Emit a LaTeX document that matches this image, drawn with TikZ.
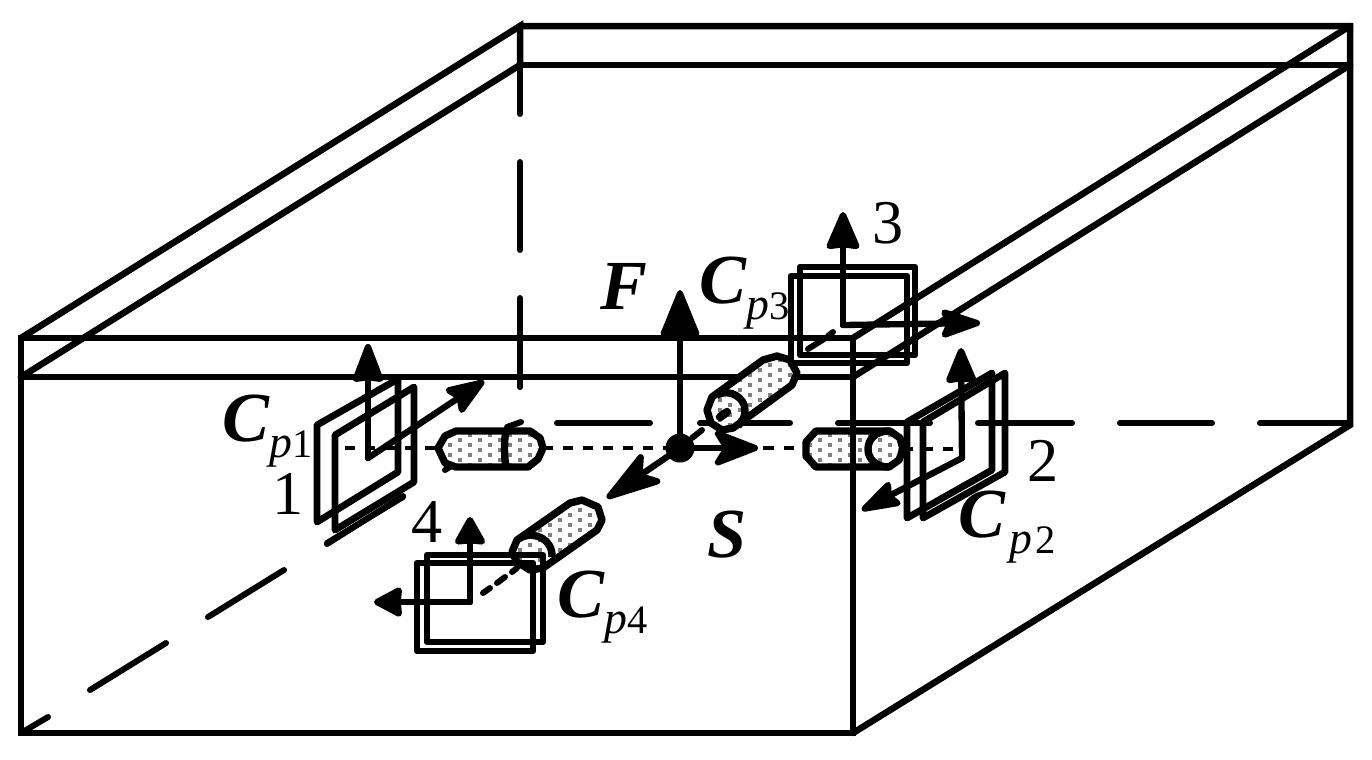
\documentclass[tikz,border=0pt]{standalone}
\usepackage{fontspec}
\setmainfont{Liberation Serif}
\usetikzlibrary{arrows.meta}
\newcommand{\capsub}[3][0pt]{{\fontsize{20}{20}\selectfont\bfseries\itshape C}\raisebox{-4.8pt}{\kern#1\fontsize{13}{13}\selectfont\itshape #2\kern#1\fontsize{11.5}{12}\selectfont\normalfont #3}}
\tikzset{
  heavy/.style={line width=1.85pt,line cap=round,line join=miter},
  longdash/.style={line width=1.7pt,line cap=round},
  thindash/.style={line width=1.2pt,dash pattern=on 2.85pt off 2.85pt},
  frameline/.style={line width=1.95pt,line join=round},
  tube/.style={line width=2.1pt,line join=round},
  axisarrow/.style n args={3}{line width=1.8pt,line cap=round,-{Stealth[length=#1pt,width=#2pt,inset=#3pt,round]}},
  numlabel/.style={anchor=base west,inner sep=0pt,font=\fontsize{17.7}{18}\selectfont},
  caplabel/.style={anchor=base west,inner sep=0pt},
  biglabel/.style={anchor=base west,inner sep=0pt,font=\fontsize{20}{20}\selectfont\bfseries\itshape}
}
\newcommand{\tubeA}{(438,448) -- (445,436) -- (456,431) -- (530,431) -- (540,438) -- (543,448) -- (538,459) -- (528,467) -- (456,467) -- (445,463) -- cycle}
\newcommand{\tubeB}{(806,442) -- (816,431) -- (890,431) -- (900,438) -- (903,449) -- (899,460) -- (889,467) -- (816,467) -- (806,456) -- cycle}
\newcommand{\tubeC}{(707,410) -- (712,397) -- (763,360) -- (777,356) -- (790,360) -- (797,373) -- (792,385) -- (733,428) -- (722,430) -- (711,423) -- cycle}
\newcommand{\tubeD}{(512,552) -- (517,540) -- (570,503) -- (582,500) -- (598,507) -- (602,520) -- (597,530) -- (543,568) -- (530,570) -- (517,562) -- cycle}
\begin{document}
\begin{tikzpicture}[x=0.01cm,y=-0.01cm]
\useasboundingbox (0,0) rectangle (1372,759);
% corners of the box
\coordinate (ftl) at (21,338);
\coordinate (ftr) at (853,338);
\coordinate (fml) at (21,377);
\coordinate (fmr) at (853,377);
\coordinate (fbl) at (21,733);
\coordinate (fbr) at (853,733);
\coordinate (btl) at (520,26);
\coordinate (btr) at (1350,26);
\coordinate (bml) at (520,65);
\coordinate (bmr) at (1350,65);
\coordinate (bbr) at (1350,425);
% box
\draw[heavy] (ftl) -- (ftr) -- (fbr) -- (fbl) -- cycle;
\draw[heavy] (fml) -- (fmr);
\draw[heavy] (btl) -- (btr) -- (bbr) -- (fbr);
\draw[heavy] (bml) -- (bmr);
\draw[heavy] (ftl) -- (btl) -- (bml) -- (fml);
\draw[heavy] (ftr) -- (btr);
\draw[heavy] (fmr) -- (bmr);
% hidden edges
\draw[longdash] (520,65) -- (520,114) (520,162) -- (520,250) (520,298) -- (520,387);
\draw[longdash] (557,423) -- (650,423) (700,423) -- (790,423) (838,423) -- (930,423) (978,423) -- (1072,423) (1120,423) -- (1212,423) (1260,423) -- (1350,423);
\draw[longdash] (21,733) -- (48,717) (90,690) -- (166,643) (208,617) -- (284,570) (327,544) -- (403,496) (445,470) -- (456,463) (507,427) -- (521,422);
% sight lines
\draw[thindash] (345,448) -- (440,448) (543,448) -- (806,448) (903,449) -- (960,449);
% tubes
\fill[white] \tubeA; \fill[white] \tubeB; \fill[white] \tubeC; \fill[white] \tubeD;
\begin{scope}
\clip \tubeA \tubeB \tubeC \tubeD;
\foreach \x in {440,460,...,900} \foreach \y in {350,360,...,580} {
  \fill[black!50] (\x-2.2,\y-2.2) rectangle ++(4.4,4.4);
  \fill[black!50] (\x+7.8,\y+2.8) rectangle ++(4.4,4.4);
}
\end{scope}
\draw[heavy] (853,430) -- (853,468);
\draw[tube] \tubeA;
\draw[tube] (506,431) .. controls (504,440) and (504,456) .. (506,467);
\draw[tube] \tubeB;
\draw[tube] (889,431) .. controls (876,431) and (868,439) .. (868,449) .. controls (868,459) and (876,467) .. (889,467);
\draw[tube] \tubeC;
\draw[tube] (717,395) .. controls (730,388) and (745,398) .. (745,410) .. controls (745,416) and (743,421) .. (738,426);
\draw[line width=2.4pt,line cap=round] (720,417) -- (727,412);
\draw[tube] \tubeD;
\draw[tube] (520,538) .. controls (535,530) and (553,540) .. (552,557);
% frame 1
\draw[frameline] (317,425) -- (398,379) -- (398,472) -- (317,522) -- cycle;
\draw[frameline] (335,435) -- (414,387) -- (414,482) -- (335,530) -- cycle;
\draw[longdash] (327,543) -- (403,497);
\coordinate (o1) at (368,458);
\coordinate (u1) at (368,344);
\coordinate (d1) at (484,381);
\draw[axisarrow={12.5}{9.2}{0.5}] (o1) -- (u1);
\draw[axisarrow={13}{9.5}{2}] (o1) -- (d1);
% frame 2
\draw[frameline] (907,422) -- (992,373) -- (992,470) -- (907,518) -- cycle;
\draw[frameline] (923,422) -- (1005,373) -- (1005,472) -- (923,518) -- cycle;
\coordinate (o2) at (962,458);
\coordinate (u2) at (961,348);
\coordinate (d2) at (862,510);
\draw[axisarrow={11.5}{9.2}{0.5}] (o2) -- (u2);
\draw[axisarrow={13.5}{8.5}{2}] (o2) -- (d2);
% frame 3
\draw[frameline] (800,267) rectangle (915,355);
\draw[frameline] (791,276) rectangle (907,363);
\coordinate (o3) at (843,325);
\coordinate (u3) at (843,212);
\coordinate (r3) at (980,323);
\draw[axisarrow={12}{10}{0.5}] (o3) -- (u3);
\draw[axisarrow={13.5}{9}{2}] (o3) -- (r3);
\draw[longdash] (833,332) -- (828,336) (824,339) -- (808,349);
% frame 4
\draw[frameline] (427,555) rectangle (543,642);
\draw[frameline] (417,563) rectangle (533,651);
\coordinate (o4) at (470,602);
\coordinate (u4) at (470,517);
\coordinate (l4) at (374,602);
\draw[axisarrow={8.8}{9.5}{0.3}] (o4) -- (u4);
\draw[axisarrow={9}{9.2}{0.3}] (o4) -- (l4);
\draw[longdash] (483,593) -- (490,588) (497,583) -- (505,577) (512,572) -- (517,568);
% centre
\node[circle,fill=black,minimum size=0.29cm,inner sep=0pt] (hub) at (680,448) {};
\coordinate (fup) at (680,290);
\coordinate (sright) at (758,448);
\coordinate (dl) at (607,498);
\draw[axisarrow={14.5}{11.5}{0.3},line width=1.6pt] (hub.center) -- (fup);
\draw[axisarrow={15}{11.5}{3.5}] (hub.center) -- (sright);
\draw[axisarrow={19}{11.5}{4.5}] (hub.center) -- (dl);
\draw[longdash] (692,438) -- (702,430);
% labels
\node[caplabel] (cp1) at (222,441) {\capsub{p}{1}};
\node[caplabel] (cp2) at (958,537) {\capsub[1pt]{p}{2}};
\node[caplabel] (cp3) at (699,303) {\capsub{p}{3}};
\node[caplabel] (cp4) at (557,617) {\capsub{p}{4}};
\node[numlabel] (n1) at (272,514) {1};
\node[numlabel] (n2) at (1027,481) {2};
\node[numlabel] (n3) at (872,243) {3};
\node[numlabel] (n4) at (411,542) {4};
\node[biglabel] (ff) at (600,309) {F};
\node[biglabel] (ss) at (707,557) {S};
\end{tikzpicture}
\end{document}
